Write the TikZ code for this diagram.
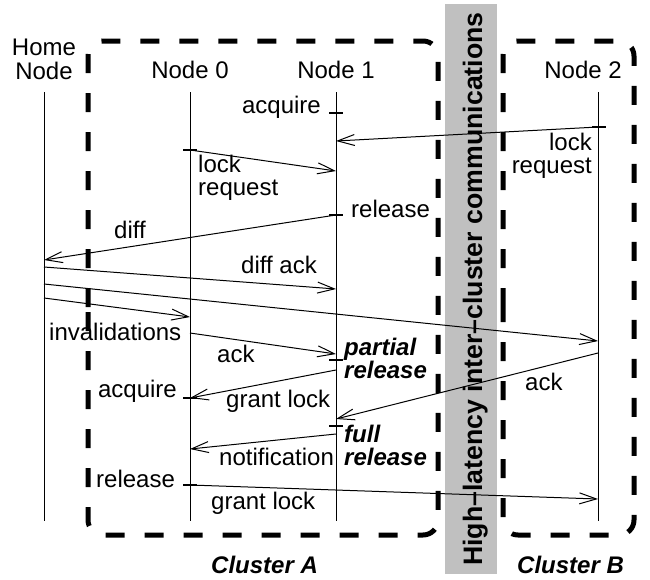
\documentclass[tikz,border=0pt]{standalone}
\usepackage{fontspec}
\setmainfont{Liberation Sans}
\usetikzlibrary{arrows.meta}
\definecolor{bandgray}{RGB}{192,192,192}
\begin{document}
\begin{tikzpicture}[x=1pt,y=-1pt,
  lbl/.style={inner sep=0pt, font=\fontsize{24}{23}\selectfont},
  bilbl/.style={inner sep=0pt, font=\fontsize{24}{23}\selectfont\bfseries\itshape},
  lifeline/.style={line width=1pt},
  msg/.style={line width=1pt, -{Straight Barb[length=17pt,width=11pt]}},
  tickmark/.style={line width=2pt},
  cluster/.style={line width=5pt, dash pattern=on 19pt off 20pt, rounded corners=15pt}]
\useasboundingbox (0,0) rectangle (650,579);
% high-latency band
\fill[bandgray] (445,4) rectangle (497,574);
\node[rotate=90, anchor=base, inner sep=0pt, font=\fontsize{26.7}{27}\selectfont\bfseries] (band) at (482,289) {High–latency inter–cluster communications};
% clusters
\draw[cluster] (88,322) -- (88,41) -- (438,41) -- (438,535) -- (88,535) -- cycle;
\draw[cluster] (503,322) -- (503,41) -- (634,41) -- (634,535) -- (503,535) -- cycle;
% lifelines
\coordinate (H-t) at (44,92);  \coordinate (H-b) at (44,521);
\coordinate (A-t) at (190,92); \coordinate (A-b) at (190,521);
\coordinate (B-t) at (336,92); \coordinate (B-b) at (336,521);
\coordinate (C-t) at (598,92); \coordinate (C-b) at (598,521);
\foreach \l in {H,A,B,C} \draw[lifeline] (\l-t) -- (\l-b);
% headers
\node[lbl, anchor=base] (home1) at (44,55) {Home};
\node[lbl, anchor=base] (home2) at (44,79) {Node};
\node[lbl, anchor=base] (n0) at (190,78) {Node 0};
\node[lbl, anchor=base] (n1) at (336,78) {Node 1};
\node[lbl, anchor=base east] (n2) at (622,78) {Node 2};
% ticks
\coordinate (t1) at (336,113);
\coordinate (t2) at (190,150);
\coordinate (t3) at (599,127);
\coordinate (t4) at (336,215);
\coordinate (t5) at (336,360);
\coordinate (t6) at (190,398);
\coordinate (t7) at (336,426);
\coordinate (t8) at (190,485);
\foreach \t in {t1,t2,t3,t4,t5,t6,t7,t8}
  \draw[tickmark] ([xshift=-7pt]\t) -- ([xshift=7pt]\t);
% message endpoints
\coordinate (m1s) at (598,127); \coordinate (m1e) at (336,141);
\coordinate (m2s) at (190,150); \coordinate (m2e) at (336,171);
\coordinate (m3s) at (336,215); \coordinate (m3e) at (44,260);
\coordinate (m4s) at (44,267);  \coordinate (m4e) at (336,289);
\coordinate (m5s) at (44,284);  \coordinate (m5e) at (598,341);
\coordinate (m6s) at (44,298);  \coordinate (m6e) at (190,317);
\coordinate (m7s) at (190,333); \coordinate (m7e) at (336,354);
\coordinate (m8s) at (598,353); \coordinate (m8e) at (336,419);
\coordinate (m9s) at (336,370); \coordinate (m9e) at (190,398);
\coordinate (m10s) at (336,434); \coordinate (m10e) at (190,449);
\coordinate (m11s) at (190,485); \coordinate (m11e) at (598,499);
\foreach \m in {m1,m2,m3,m4,m5,m6,m7,m8,m9,m10,m11}
  \draw[msg] (\m s) -- (\m e);
% labels
\node[lbl, anchor=base east] (acq1) at (321,113) {acquire};
\node[lbl, anchor=base west] (lr0a) at (198,172) {lock};
\node[lbl, anchor=base west] (lr0b) at (198,195) {request};
\node[lbl, anchor=base east] (lr2a) at (592,150) {lock};
\node[lbl, anchor=base east] (lr2b) at (592,173) {request};
\node[lbl, anchor=base west] (rel1) at (351,217) {release};
\node[lbl, anchor=base west] (diff) at (114,238) {diff};
\node[lbl, anchor=base west] (diffack) at (241,273) {diff ack};
\node[lbl, anchor=base west] (inval) at (49,340) {invalidations};
\node[lbl, anchor=base west] (ack1) at (217,362) {ack};
\node[bilbl, anchor=base west] (pr1) at (344,355) {partial};
\node[bilbl, anchor=base west] (pr2) at (344,378) {release};
\node[lbl, anchor=base east] (acq0) at (177,397) {acquire};
\node[lbl, anchor=base west] (gl1) at (226,407) {grant lock};
\node[lbl, anchor=base west] (ack2) at (525,390) {ack};
\node[bilbl, anchor=base west] (fr1) at (344,442) {full};
\node[bilbl, anchor=base west] (fr2) at (344,465) {release};
\node[lbl, anchor=base west] (notif) at (219,465) {notification};
\node[lbl, anchor=base west] (rel0) at (96,487) {release};
\node[lbl, anchor=base west] (gl2) at (211,509) {grant lock};
\node[bilbl, anchor=base west] (clA) at (211,573) {Cluster A};
\node[bilbl, anchor=base west] (clB) at (517,573) {Cluster B};
\end{tikzpicture}
\end{document}
